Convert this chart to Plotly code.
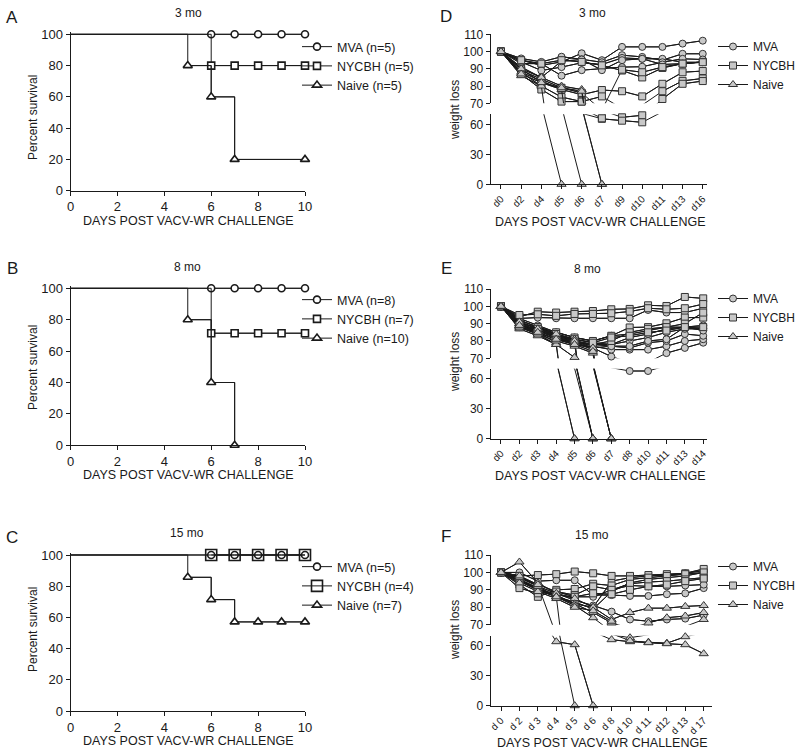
import plotly.graph_objects as go

W, H = 800, 752
FONT = "Arial, 'Liberation Sans', sans-serif"
INK = "#1a1a1a"

# ---------------- survival data (A, B, C) ----------------
surv_xticks = [0, 2, 4, 6, 8, 10]
surv_yticks = [0, 20, 40, 60, 80, 100]

A_mva_t = [0, 6, 7, 8, 9, 10];   A_mva_s = [100, 100, 100, 100, 100, 100]
A_nycbh_t = [0, 6, 7, 8, 9, 10]; A_nycbh_s = [100, 80, 80, 80, 80, 80]
A_naive_t = [0, 5, 6, 7, 10];    A_naive_s = [100, 80, 60, 20, 20]
A_names = ["MVA (n=5)", "NYCBH (n=5)", "Naive (n=5)"]

B_mva_t = [0, 6, 7, 8, 9, 10];   B_mva_s = [100, 100, 100, 100, 100, 100]
B_nycbh_t = [0, 6, 7, 8, 9, 10]; B_nycbh_s = [100, 71.4, 71.4, 71.4, 71.4, 71.4]
B_naive_t = [0, 5, 6, 7];        B_naive_s = [100, 80, 40, 0]
B_names = ["MVA (n=8)", "NYCBH (n=7)", "Naive (n=10)"]

C_mva_t = [0, 6, 7, 8, 9, 10];   C_mva_s = [100, 100, 100, 100, 100, 100]
C_nycbh_t = [0, 6, 7, 8, 9, 10]; C_nycbh_s = [100, 100, 100, 100, 100, 100]
C_naive_t = [0, 5, 6, 7, 8, 9, 10]; C_naive_s = [100, 85.7, 71.4, 57.1, 57.1, 57.1, 57.1]
C_names = ["MVA (n=5)", "NYCBH (n=4)", "Naive (n=7)"]

# ---------------- weight data (D, E, F) ----------------
wt_hi_ticks = [70, 80, 90, 100, 110]
wt_lo_ticks = [0, 30, 60]
wt_names = ["MVA", "NYCBH", "Naive"]

D_days = ["d0", "d2", "d4", "d5", "d6", "d7", "d9", "d10", "d11", "d13", "d16"]
D_mva = [
    [100, 95, 92, 94, 99, 95, 102.7, 102.7, 102.7, 104.6, 106.3],
    [100, 96, 94, 97, 95.5, 93.8, 97.9, 96.9, 95, 98.7, 98.7],
    [100, 94, 89, 91, 93.5, 92.5, 96.3, 95.8, 95.8, 93.8, 93.8],
    [100, 93, 93, 86, 89.2, 90.2, 91, 91.2, 93.8, 95.8, 95.4],
    [100, 91, 85, 94.4, 95.4, 89.2, 95, 95.8, 92.5, 93, 94],
]
D_nycbh = [
    [100, 95, 93, 95, 94, 92, 89, 85, 90.5, 93, 94],
    [100, 90, 82, 78, 75, 77.7, 77, 74, 81.3, 88, 88.7],
    [100, 88, 80, 73.6, 71, 74, 67, 69, 77, 83, 84.4],
    [100, 87, 78, 71, 71, 65.5, 63.6, 62, 72.5, 81.3, 82.9],
    [100, 89, 84, 79, 76, 66, 89.5, 88, 91, 93, 93.8],
]
D_naive = [
    [100, 86, 80, 0],
    [100, 88, 83, 78, 0],
    [100, 90, 85, 80, 78, 0],
    [100, 87, 82, 79, 77, 0],
]

E_days = ["d0", "d2", "d3", "d4", "d5", "d6", "d7", "d8", "d10", "d11", "d13", "d14"]
E_mva = [
    [100, 93, 93.5, 93.1, 93.1, 93.1, 93.1, 93.1, 97.9, 96.4, 96.4, 98.9],
    [100, 90, 86, 82, 79, 76, 71, 67.7, 67.7, 73, 76, 79],
    [100, 92, 88, 84, 80, 77, 75, 75, 75, 77, 80, 81],
    [100, 91, 87, 83, 80, 78, 77, 76, 79, 80, 84, 83],
    [100, 89, 86, 82, 79, 78, 78, 80, 82, 85, 87, 87],
    [100, 93, 89, 85, 82, 80, 83, 84, 86, 88, 88, 89],
    [100, 92, 88, 84, 81, 79, 78, 82, 84, 87, 88, 87],
    [100, 88, 85, 81, 78, 76, 77, 77, 80, 81, 88, 86],
]
E_nycbh = [
    [100, 94, 96.9, 96.4, 96.9, 97.3, 98.3, 98.5, 100.6, 100.2, 105.4, 104.6],
    [100, 95, 95.4, 94.5, 95.6, 95.6, 96, 97, 98.9, 98.3, 98.9, 101.3],
    [100, 90, 88, 85, 82, 80, 83, 87.8, 88, 90.2, 93.5, 93.5],
    [100, 88, 86, 83, 80, 78, 80, 85, 87, 88, 90, 96.4],
    [100, 89, 87, 84, 81, 79, 82, 83, 85, 86, 88, 88],
]
E_naive = [
    [100, 88, 84, 78, 0],
    [100, 89, 85, 79, 0],
    [100, 87, 83, 78, 70.5, 0],
    [100, 90, 86, 82, 80, 0],
    [100, 89, 85, 81, 79, 0],
    [100, 91, 87, 83, 81, 0],
    [100, 90, 86, 82, 79, 75, 0],
    [100, 88, 84, 80, 77, 73, 0],
    [100, 91, 87, 84, 80, 76, 0],
    [100, 89, 85, 81, 78, 74, 0],
]

F_days = ["d 0", "d 2", "d 3", "d 4", "d 5", "d 6", "d 8", "d 10", "d 11", "d12", "d 13", "d 17"]
F_mva = [
    [100, 100, 95, 95.5, 95.5, 87, 87, 86.5, 86.5, 87.5, 88, 91],
    [100, 98, 92, 88, 84, 81, 77.5, 73, 72, 73, 73.5, 75.5],
    [100, 97, 93, 89, 86, 86, 90, 92.5, 92, 92, 92.5, 93],
    [100, 96, 91, 87, 82, 80, 95, 97, 98, 98.5, 99.5, 101],
    [100, 95, 90, 86, 83, 79, 89, 94, 96, 97, 98, 100],
]
F_nycbh = [
    [100, 98, 98.5, 99, 100.5, 99.5, 98, 98, 98.5, 99, 99.5, 102],
    [100, 93, 86, 90, 90.5, 93.5, 92.5, 96, 97, 98, 99, 100],
    [100, 91, 88, 89, 87, 92, 90, 93.5, 94.5, 95, 96, 97],
    [100, 96, 90, 87, 86, 88, 87.5, 90, 92, 93, 95, 96.5],
]
F_naive = [
    [100, 106, 94, 88, 85, 80, 73, 77, 79.5, 79.5, 80.5, 81],
    [100, 96, 91, 86, 82, 77, 71, 68, 71, 74, 75, 77],
    [100, 95, 90, 86, 81, 74, 66, 64, 63.5, 62.5, 69, 73],
    [100, 94, 89, 85, 80, 78, 72, 65, 63, 62, 61, 52],
    [100, 97, 92, 86, 0],
    [100, 98, 93, 64, 61, 0],
]

# ---------------- helpers ----------------
def ydom(top_px, bot_px):
    return [1 - bot_px / H, 1 - top_px / H]

def xdom(l_px, r_px):
    return [l_px / W, r_px / W]

fig = go.Figure()
layout = dict(
    width=W, height=H, paper_bgcolor="white", plot_bgcolor="rgba(0,0,0,0)",
    margin=dict(l=0, r=0, t=0, b=0, autoexpand=False),
    font=dict(family=FONT, color=INK, size=12),
    annotations=[],
)

axis_common = dict(showline=True, linecolor=INK, linewidth=1, showgrid=False, zeroline=False,
                   ticks="outside", ticklen=4, tickwidth=1, tickcolor=INK)

SURV_SYMS = ["circle", "square", "triangle-up"]

def add_survival(n, y0px, y100px, series, names, legend_id, leg_x, leg_top, big_square=False):
    s = (y0px - y100px) / 100.0
    top = y100px - 1.5 * s
    xk = "xaxis" if n == 1 else f"xaxis{n}"
    yk = "yaxis" if n == 1 else f"yaxis{n}"
    xa = "x" if n == 1 else f"x{n}"
    ya = "y" if n == 1 else f"y{n}"
    layout[xk] = dict(axis_common, domain=xdom(70.5, 305), range=[0, 10], anchor=ya,
                      tickvals=surv_xticks, tickfont=dict(size=13))
    layout[yk] = dict(axis_common, domain=ydom(top, y0px), range=[0, 101.5], anchor=xa,
                      tickvals=surv_yticks, tickfont=dict(size=13))
    for i, ((t, v), name) in enumerate(zip(series, names)):
        sym = SURV_SYMS[i]
        size = 7 if sym != "triangle-up" else 8
        fill = "white"
        if big_square and sym == "square":
            size = 11
            fill = "rgba(0,0,0,0)"
        fig.add_trace(go.Scatter(x=t, y=v, mode="lines", line_shape="hv", xaxis=xa, yaxis=ya,
                                 line=dict(color=INK, width=1), showlegend=False, hoverinfo="skip"))
        fig.add_trace(go.Scatter(x=t[1:], y=v[1:], mode="lines+markers", line_shape="hv",
                                 xaxis=xa, yaxis=ya, cliponaxis=False, name=name, legend=legend_id,
                                 line=dict(color=INK, width=1),
                                 marker=dict(symbol=sym, size=size, color=fill,
                                             line=dict(color=INK, width=1.6))))
    layout[legend_id] = dict(x=leg_x / W, y=1 - leg_top / H, xanchor="left", yanchor="top",
                             font=dict(size=12.5), bgcolor="rgba(0,0,0,0)", tracegroupgap=0,
                             itemwidth=30)

WT_SYMS = ["circle", "square", "triangle-up"]

def add_weight(xn, ylo_n, yhi_n, days, groups, x_l, x_r, idx_rng, hi_top, hi_bot, lo_top, lo_bot,
               legend_id, leg_x, leg_top):
    xa, ylo, yhi = f"x{xn}", f"y{ylo_n}", f"y{yhi_n}"
    layout[f"xaxis{xn}"] = dict(axis_common, domain=xdom(x_l, x_r), type="category",
                                categoryarray=days, categoryorder="array", range=idx_rng,
                                anchor=ylo, tickangle=-45, tickfont=dict(size=10))
    layout[f"yaxis{ylo_n}"] = dict(axis_common, domain=ydom(lo_top, lo_bot), range=[0, 70],
                                   anchor=xa, tickvals=wt_lo_ticks, tickfont=dict(size=12))
    layout[f"yaxis{yhi_n}"] = dict(axis_common, domain=ydom(hi_top, hi_bot), range=[70, 110],
                                   anchor=xa, tickvals=wt_hi_ticks, tickfont=dict(size=12))
    for gi, (name, mice) in enumerate(zip(wt_names, groups)):
        sym = WT_SYMS[gi]
        xs, ys = [], []
        for m in mice:
            for d, v in zip(days, m):
                xs.append(d)
                ys.append(v)
            xs.append(None)
            ys.append(None)
        for ya, lo_seg, show in [(ylo, True, False), (yhi, False, True)]:
            fig.add_trace(go.Scatter(x=xs, y=ys, mode="lines", xaxis=xa, yaxis=ya,
                                     line=dict(color=INK, width=1), showlegend=False,
                                     hoverinfo="skip"))
            if lo_seg:
                ym = [v if (v is not None and v < 70) else None for v in ys]
            else:
                ym = [v if (v is not None and 70 <= v <= 110) else None for v in ys]
            fig.add_trace(go.Scatter(x=xs, y=ym, mode="lines+markers", xaxis=xa, yaxis=ya,
                                     cliponaxis=False, name=name, legend=legend_id,
                                     showlegend=show,
                                     line=dict(color=INK, width=1),
                                     marker=dict(symbol=sym, size=7 if gi < 2 else 8,
                                                 color="#c8c8c8",
                                                 line=dict(color="#333333", width=1))))
    layout[legend_id] = dict(x=leg_x / W, y=1 - leg_top / H, xanchor="left", yanchor="top",
                             font=dict(size=12), bgcolor="rgba(0,0,0,0)", tracegroupgap=0,
                             itemwidth=30)

# survival panels
add_survival(1, 190.7, 34.3,
             [(A_mva_t, A_mva_s), (A_nycbh_t, A_nycbh_s), (A_naive_t, A_naive_s)],
             A_names, "legend", 297, 32)
add_survival(2, 445.3, 288.3,
             [(B_mva_t, B_mva_s), (B_nycbh_t, B_nycbh_s), (B_naive_t, B_naive_s)],
             B_names, "legend2", 297, 285)
add_survival(3, 711, 555,
             [(C_mva_t, C_mva_s), (C_nycbh_t, C_nycbh_s), (C_naive_t, C_naive_s)],
             C_names, "legend3", 297, 552, big_square=True)

# weight panels
add_weight(4, 4, 5, D_days, [D_mva, D_nycbh, D_naive], 490.7, 707, [-0.51, 10.21],
           34.3, 103.3, 114.3, 184.3, "legend4", 713, 32)
add_weight(5, 6, 7, E_days, [E_mva, E_nycbh, E_naive], 490.7, 706.7, [-0.56, 11.19],
           289, 358.3, 368.7, 438.7, "legend5", 713, 284)
add_weight(6, 8, 9, F_days, [F_mva, F_nycbh, F_naive], 490.7, 712, [-0.56, 11.45],
           555, 624.7, 635.7, 705.7, "legend6", 713, 552)

# ---------------- text annotations ----------------
def ann(text, x, y, size, angle=0):
    layout["annotations"].append(dict(text=text, x=x / W, y=1 - y / H, xref="paper", yref="paper",
                                      showarrow=False, textangle=angle, xanchor="center",
                                      yanchor="middle", font=dict(size=size, color=INK)))

for letter, x, y in [("A", 12, 17), ("B", 12, 268), ("C", 12, 537),
                     ("D", 446, 16), ("E", 446, 268), ("F", 446, 536)]:
    ann(letter, x, y, 17)
for title, x, y in [("3 mo", 188, 13), ("8 mo", 187, 267), ("15 mo", 187, 533),
                    ("3 mo", 592, 13), ("8 mo", 587, 269), ("15 mo", 592, 535)]:
    ann(title, x, y, 12)
for x, y in [(188, 221), (188, 475), (188, 741), (600, 222), (600, 476), (602, 743)]:
    ann("DAYS POST VACV-WR CHALLENGE", x, y, 12.5)
for y in [118, 368, 630]:
    ann("Percent survival", 33, y, 12, -90)
for y in [110, 362, 630]:
    ann("weight loss", 455, y, 12, -90)

fig.update_layout(**layout)
fig.write_html("out.html", config={"displayModeBar": False},
               post_script="document.body.style.margin='0';document.body.style.overflow='hidden';")
